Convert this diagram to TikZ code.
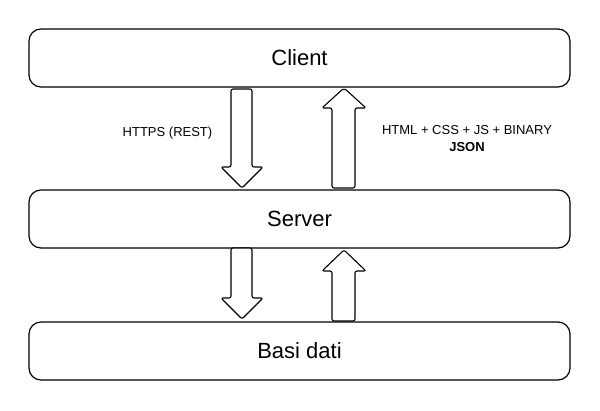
\documentclass[tikz,border=0pt]{standalone}
\usepackage{fontspec}
\setmainfont{Liberation Sans}
\begin{document}
\begin{tikzpicture}[x=1pt,y=-1pt,
  layer/.style={draw=black,line width=1.2pt,rounded corners=12pt,fill=white},
  bigarrow/.style={draw=black,line width=1.1pt,rounded corners=2pt,fill=white,line join=round},
  lbl/.style={font=\fontsize{22}{26}\selectfont,inner sep=0pt},
  small/.style={font=\fontsize{13}{15}\selectfont,inner sep=0pt,align=center}]
\useasboundingbox (0,0) rectangle (600,410);
% layers
\draw[layer] (29,29) rectangle (570,87);
\node[lbl] (client) at (299.5,58) {Client};
\draw[layer] (29,190) rectangle (570,248);
\node[lbl] (server) at (299.5,219) {Server};
\draw[layer] (29,322) rectangle (570,380);
\node[lbl] (db) at (299.5,351) {Basi dati};
% arrows client <-> server
\draw[bigarrow] (231,89) -- (252,89) -- (252,167) -- (263,167) -- (242,188) -- (221,167) -- (231,167) -- cycle;
\draw[bigarrow] (332,188) -- (355,188) -- (355,108) -- (366,108) -- (344,88) -- (322,108) -- (332,108) -- cycle;
% arrows server <-> db
\draw[bigarrow] (231,248) -- (252,248) -- (252,298) -- (263,298) -- (242,319) -- (221,298) -- (231,298) -- cycle;
\draw[bigarrow] (332,321) -- (355,321) -- (355,271) -- (366,271) -- (344,250) -- (322,271) -- (332,271) -- cycle;
% labels
\node[small] (req) at (167.5,133) {HTTPS (REST)};
\node[small] (resp) at (467,139) {HTML + CSS + JS + BINARY\\[2pt]\textbf{JSON}};
\end{tikzpicture}
\end{document}
